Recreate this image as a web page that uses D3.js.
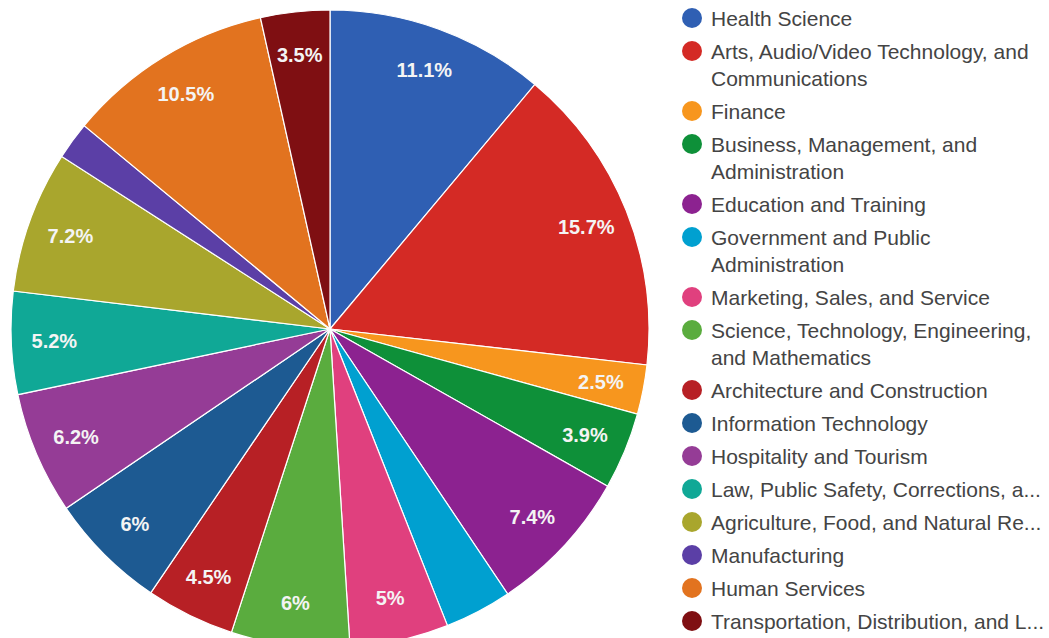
<!DOCTYPE html>
<html>
<head>
<meta charset="utf-8">
<script src="https://cdn.jsdelivr.net/npm/d3@7"></script>
<style>
  html, body { margin: 0; padding: 0; background: #ffffff; }
  svg { display: block; }
</style>
</head>
<body>
<svg id="chart" width="1049" height="638"></svg>
<script>
// ---- data ----
const categories = [
  "Health Science",
  "Arts, Audio/Video Technology, and Communications",
  "Finance",
  "Business, Management, and Administration",
  "Education and Training",
  "Government and Public Administration",
  "Marketing, Sales, and Service",
  "Science, Technology, Engineering, and Mathematics",
  "Architecture and Construction",
  "Information Technology",
  "Hospitality and Tourism",
  "Law, Public Safety, Corrections, and Security",
  "Agriculture, Food, and Natural Resources",
  "Manufacturing",
  "Human Services",
  "Transportation, Distribution, and Logistics"
];
const values = [11.1, 15.7, 2.5, 3.9, 7.4, 3.4, 5, 6, 4.5, 6, 6.2, 5.2, 7.2, 1.9, 10.5, 3.5];
const showLabel = [true, true, true, true, true, false, true, true, true, true, true, true, true, false, true, true];
const legendLines = [
  ["Health Science"],
  ["Arts, Audio/Video Technology, and", "Communications"],
  ["Finance"],
  ["Business, Management, and", "Administration"],
  ["Education and Training"],
  ["Government and Public", "Administration"],
  ["Marketing, Sales, and Service"],
  ["Science, Technology, Engineering,", "and Mathematics"],
  ["Architecture and Construction"],
  ["Information Technology"],
  ["Hospitality and Tourism"],
  ["Law, Public Safety, Corrections, a..."],
  ["Agriculture, Food, and Natural Re..."],
  ["Manufacturing"],
  ["Human Services"],
  ["Transportation, Distribution, and L..."]
];
const colors = ["#2f5fb3", "#d42a25", "#f7961e", "#0e9039", "#8c2290", "#00a0d0",
  "#e0407e", "#5aac3e", "#b72025", "#1d5a92", "#953c96", "#10a896",
  "#a9a62d", "#5b3fa6", "#e2731f", "#7f0f12"];

// ---- layout ----
const svg = d3.select("#chart");
const cx = 330, cy = 329, R = 319;
const font = "'Liberation Sans', Arial, sans-serif";

const color = d3.scaleOrdinal().domain(categories).range(colors);

const pie = d3.pie().sort(null).value(d => d.value);
const data = categories.map((c, i) => ({ name: c, value: values[i], show: showLabel[i] }));
const arcs = pie(data);

const arc = d3.arc().innerRadius(0).outerRadius(R);
const labelArc = d3.arc().innerRadius(R * 0.865).outerRadius(R * 0.865);

const g = svg.append("g").attr("transform", `translate(${cx},${cy})`);

g.selectAll("path.slice")
  .data(arcs)
  .join("path")
  .attr("class", "slice")
  .attr("d", arc)
  .attr("fill", d => color(d.data.name))
  .attr("stroke", "#ffffff")
  .attr("stroke-width", 1.2);

g.selectAll("text.lbl")
  .data(arcs.filter(d => d.data.show))
  .join("text")
  .attr("class", "lbl")
  .attr("transform", d => `translate(${labelArc.centroid(d)})`)
  .attr("text-anchor", "middle")
  .attr("dy", "0.36em")
  .attr("fill", "#f4f4f4")
  .style("font-family", font)
  .style("font-size", "20px")
  .style("font-weight", "bold")
  .text(d => d.data.value + "%");

// ---- legend ----
const legend = svg.append("g");
const entryGap = 33, wrapGap = 27;
let y = 18;
legendLines.forEach((lines, i) => {
  if (i > 0) y += entryGap;
  legend.append("circle")
    .attr("cx", 692).attr("cy", y).attr("r", 10)
    .attr("fill", color(categories[i]));
  lines.forEach((ln, j) => {
    if (j > 0) y += wrapGap;
    legend.append("text")
      .attr("x", 711).attr("y", y)
      .attr("dy", "0.36em")
      .attr("fill", "#444444")
      .style("font-family", font)
      .style("font-size", "21px")
      .text(ln);
  });
});
</script>
</body>
</html>
